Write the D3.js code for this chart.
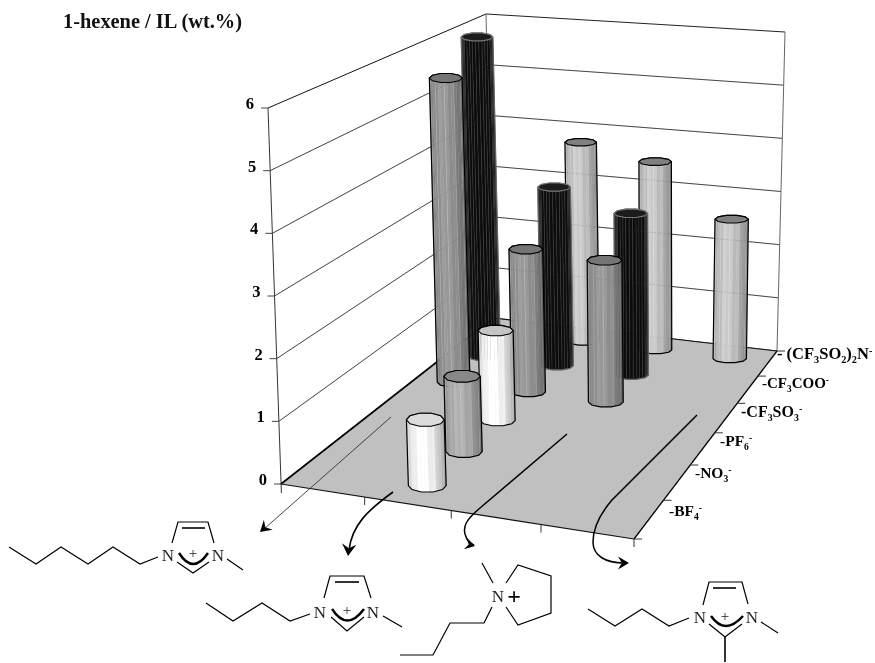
<!DOCTYPE html>
<html><head><meta charset="utf-8">
<script src="https://cdn.jsdelivr.net/npm/d3@7/dist/d3.min.js"></script>
<style>html,body{margin:0;padding:0;background:#fff}svg{display:block;filter:grayscale(1)}
text{font-family:"Liberation Serif",serif}</style></head>
<body><svg id="c" width="875" height="663"></svg>
<script>
const cations=["hexyl-mim","butyl-mim","butyl-pyrr","butyl-dmim"];
const anions=["BF4","NO3","PF6","CF3SO3","CF3COO","(CF3SO2)2N"];
const hexylMim=[null,null,null,5.5,5.98,null];
const butylMim=[1.05,1.25,1.55,2.55,3.3,3.8];
const butylPyrr=[null,null,null,2.5,2.95,3.55];
const butylDmim=[null,null,null,null,null,2.6];
const zTicks=[0,1,2,3,4,5,6];
const anionLabels=[
 [["-BF",0],["4",-1],["-",1]],
 [["-NO",0],["3",-1],["-",1]],
 [["-PF",0],["6",-1],["-",1]],
 [["-CF",0],["3",-1],["SO",0],["3",-1],["-",1]],
 [["-CF",0],["3",-1],["COO",0],["-",1]],
 [["- (CF",0],["3",-1],["SO",0],["2",-1],[")",0],["2",-1],["N",0],["-",1]]];
const anionBody=["#efefef","#a6a6a6","#f2f2f2","#8e8e8e","#0c0c0c","#bdbdbd"];
const anionCap=["#dcdcdc","#888888","#c4c4c4","#757575","#1c1c1c","#808080"];

const svg=d3.select("#c");
const FL=[281,484],FR=[634,539],BR=[777,351],BL=[493,318];
const TFL=[268,108],TFR=[634,143],TBR=[785,32],TBL=[486,14];
function homography(p0,p1,p2,p3){
 const dx1=p1[0]-p2[0],dx2=p3[0]-p2[0],sx=p0[0]-p1[0]+p2[0]-p3[0];
 const dy1=p1[1]-p2[1],dy2=p3[1]-p2[1],sy=p0[1]-p1[1]+p2[1]-p3[1];
 const den=dx1*dy2-dx2*dy1;
 const g=(sx*dy2-dx2*sy)/den,h=(dx1*sy-sx*dy1)/den;
 const a=p1[0]-p0[0]+g*p1[0],b=p3[0]-p0[0]+h*p3[0],c=p0[0];
 const d=p1[1]-p0[1]+g*p1[1],e=p3[1]-p0[1]+h*p3[1],f=p0[1];
 return (u,v)=>{const w=g*u+h*v+1;return [(a*u+b*v+c)/w,(d*u+e*v+f)/w];};
}
const H0=homography(FL,FR,BR,BL),H1=homography(TFL,TFR,TBR,TBL);
const uS=d3.scaleLinear().domain([0,cations.length]).range([0,1]);
const vS=d3.scaleLinear().domain([0,anions.length]).range([0,1]);
const zS=d3.scaleLinear().domain([0,6]).range([0,1]);
function P(i,r,z){const u=uS(i),v=vS(r),t=zS(z),a=H0(u,v),b=H1(u,v);
 return [a[0]+(b[0]-a[0])*t,a[1]+(b[1]-a[1])*t];}
const line=d3.line();
const seg=(g,a,b,w,col)=>g.append("line").attr("x1",a[0]).attr("y1",a[1]).attr("x2",b[0]).attr("y2",b[1]).attr("stroke",col||"#000").attr("stroke-width",w||1);

const gWall=svg.append("g"),gFloor=svg.append("g"),gBars=svg.append("g"),gOver=svg.append("g"),gTxt=svg.append("g"),gChem=svg.append("g");
const nU=cations.length,nV=anions.length;
gFloor.append("path").attr("d",line([P(0,0,0),P(nU,0,0),P(nU,nV,0),P(0,nV,0)])+"Z").attr("fill","#c0c0c0");
zTicks.forEach(z=>{
 seg(gWall,P(0,0,z),P(0,nV,z),1,z==6?"#111":"#444");
 seg(gWall,P(0,nV,z),P(nU,nV,z),1,z==6?"#222":"#444");
 const a=P(0,0,z);seg(gWall,[a[0]-7,a[1]],a,1,"#444");
 gTxt.append("text").attr("x",a[0]-14).attr("y",a[1]+1).attr("text-anchor","end")
  .attr("font-size",16.5).attr("font-weight","bold").text(z);
 if(z>0&&z<6){
  [[P(0,0,z),P(0,nV,z)],[P(0,nV,z),P(nU,nV,z)]].forEach(([p,q])=>seg(gOver,p,q,.8,"#666").attr("stroke-dasharray","1 2").attr("opacity",.4));
 }
});
seg(gWall,P(0,0,6),[FL[0]+.4,FL[1]+9],1,"#333");
seg(gWall,P(0,nV,6),P(0,nV,0),1,"#666");
seg(gWall,P(nU,nV,6),P(nU,nV,0),1,"#666");
seg(gFloor,P(0,0,0),P(0,nV,0),1.6,"#000");
seg(gFloor,P(0,nV,0),P(nU,nV,0),1.2,"#111");
seg(gFloor,P(0,0,0),P(nU,0,0),1.2,"#111");
seg(gFloor,P(nU,0,0),P(nU,nV,0),1.3,"#000");
d3.range(1,nU+1).forEach(i=>{const a=P(i,0,0);seg(gFloor,a,[a[0],a[1]+8],1,"#333");});
d3.range(0,nV+1).forEach(r=>{const a=P(nU,r,0);seg(gFloor,a,[a[0]+8,a[1]],1,"#333");});
const labX=[669,695,720,741,762,777],labY=[516,478,446,417,388,359],labS=[15.5,15.5,15.5,16,15,16.5];
anionLabels.forEach((parts,r)=>{
 const t=gTxt.append("text").attr("x",labX[r]).attr("y",labY[r]).attr("font-size",labS[r]).attr("font-weight","bold");
 let prev=0;
 parts.forEach(([s,k])=>{
  const off=k==-1?3.5:k==1?-5:0;
  t.append("tspan").attr("dy",off-prev).attr("font-size",k==0?labS[r]:labS[r]*.62).text(s);
  prev=off;
 });
});
gTxt.append("text").attr("x",63).attr("y",28).attr("font-size",20.4).attr("font-weight","bold").attr("fill","#111").text("1-hexene / IL (wt.%)");

const bars=[];
[hexylMim,butylMim,butylPyrr,butylDmim].forEach((vals,i)=>vals.forEach((val,r)=>{
 if(val!=null){const b=P(i+.5,r+.5,0);bars.push({i,r,val,y:b[1]});}
}));
bars.sort((a,b)=>a.y-b.y);
const shade=d3.scaleLinear().domain([0,.35,.7,1]).range([.86,1.08,.95,.66]);
const polyAngles=d3.range(0,11).map(k=>k*36*Math.PI/180);
bars.forEach(d=>{
 const b=P(d.i+.5,d.r+.5,0),t=P(d.i+.5,d.r+.5,d.val);
 const e0=P(d.i+.5-.22,d.r+.5,0),e1=P(d.i+.5+.22,d.r+.5,0);
 const rx=Math.hypot(e1[0]-e0[0],e1[1]-e0[1])/2, ry=rx*(.36-.024*d.r);
 const pt=(c,a)=>[c[0]+rx*Math.cos(a),c[1]+ry*Math.sin(a)];
 const g=gBars.append("g");
 const black=d.r==4;
 const base=d3.color(anionBody[d.r]);
 for(let k=5;k>0;k--){
  const a1=polyAngles[k],a2=polyAngles[k-1];
  for(let s=0;s<3;s++){
   const l=(q)=>{const p=pt([0,0],a1),n=pt([0,0],a2);return [p[0]+(n[0]-p[0])*q,p[1]+(n[1]-p[1])*q];};
   const q1=l(s/3),q2=l((s+1)/3);
   const f=(q1[0]+q2[0])/(4*rx)+.5;
   let m=shade(f);
   if((5-k)*3+s&1) m*=1.05;
   const col=black?d3.rgb(12,12,12):d3.rgb(Math.min(255,base.r*m),Math.min(255,base.g*m),Math.min(255,base.b*m));
   g.append("path").attr("d",line([[b[0]+q1[0],b[1]+q1[1]],[b[0]+q2[0],b[1]+q2[1]],[t[0]+q2[0],t[1]+q2[1]],[t[0]+q1[0],t[1]+q1[1]]])+"Z")
    .attr("fill",col.formatRgb()).attr("stroke",col.formatRgb()).attr("stroke-width",.4);
   if(s==1||black){ g.append("line").attr("x1",b[0]+q1[0]).attr("y1",b[1]+q1[1]).attr("x2",t[0]+q1[0]).attr("y2",t[1]+q1[1])
    .attr("stroke",black?"#777":"#fff").attr("stroke-width",.6).attr("opacity",black?.45:.3);}
  }
 }
 const outer=[pt(t,Math.PI),...polyAngles.slice(6).map(a=>pt(t,a))];
 const bot=polyAngles.slice(0,6).map(a=>pt(b,a));
 g.append("path").attr("d",line([...bot,...outer])+"Z").attr("fill","none").attr("stroke",black?"#666":"#000").attr("stroke-width",1.2);
 g.append("path").attr("d",line(polyAngles.map(a=>pt(t,a)))+"Z").attr("fill",anionCap[d.r]).attr("stroke",black?"#777":"#000").attr("stroke-width",1.1);
});

const lineG=(pts,w)=>gChem.append("path").attr("d",line(pts)).attr("fill","none").attr("stroke","#000").attr("stroke-width",w||1.2).attr("stroke-linejoin","miter");
const atom=(x,y,s,size,bold)=>gChem.append("text").attr("x",x).attr("y",y).attr("text-anchor","middle").attr("dominant-baseline","central")
 .attr("font-size",size).attr("font-weight",bold?"bold":"normal").attr("fill",bold?"#000":"#222").text(s);
function imid(chain,nl,nr,ring,dbl,bot,arc,plus,me){
 lineG(chain);lineG(ring);lineG(dbl,1.6);lineG(bot);lineG(me);
 gChem.append("path").attr("d",`M${arc[0]}Q${arc[1]} ${arc[2]}`).attr("fill","none").attr("stroke","#000").attr("stroke-width",2.4);
 atom(nl[0],nl[1],"N",17);atom(nr[0],nr[1],"N",17);atom(plus[0],plus[1],"+",15);
}
imid([[9,547],[36,564],[61,547],[88,564],[113,547],[140,564],[158,557]],[168,555],[218,555],
 [[172,543],[178,522],[208,522],[214,543]],[[182,528],[205,528]],[[177,562],[193,573],[209,562]],
 [[179,553],[193,575],[208,553]],[193,553],[[227,559],[243,570]]);
imid([[206,603],[233,621],[262,603],[290,621],[310,614]],[320,612],[373,612],
 [[324,598],[330,576],[364,576],[371,598]],[[335,582],[359,582]],[[331,617],[347,631],[364,617]],
 [[332,609],[347,632],[364,609]],[347,610],[[383,616],[402,627]]);
imid([[588,609],[615,626],[642,609],[669,626],[689,618]],[700,617],[752,617],
 [[703,605],[709,582],[742,582],[748,604]],[[713,588],[736,588]],[[709,624],[725,637],[742,624]],
 [[711,616],[725,636],[743,616]],[725,616],[[761,622],[778,633]]);
lineG([[725,637],[725,662]],1.6);
atom(498,596,"N",17);atom(514,596,"+",24,true);
lineG([[482,563],[493,583]]);
lineG([[506,583],[518,565],[551,576],[551,613],[518,625],[506,607]]);
lineG([[492,607],[484,623],[450,623],[433,655],[400,655]]);
function head(tip,ang,size){
 const c=Math.cos(ang),s=Math.sin(ang);
 const q=(x,y)=>[tip[0]+x*c-y*s,tip[1]+x*s+y*c];
 gChem.append("path").attr("d",line([tip,q(-size,-size*.6),q(-size*.65,0),q(-size,size*.6)])+"Z").attr("fill","#000");
}
gChem.append("line").attr("x1",391).attr("y1",417).attr("x2",264).attr("y2",529).attr("stroke","#333").attr("stroke-width",.9);
head([260,532],Math.atan2(113,-128),11);
gChem.append("path").attr("d","M393,492C368,510 352,525 349,550").attr("fill","none").attr("stroke","#000").attr("stroke-width",1.6);
head([348,556],Math.atan2(20,-2),12);
gChem.append("path").attr("d","M567,434L480,508C466,520 463,526 465,534C467,541 470,544 474,545").attr("fill","none").attr("stroke","#000").attr("stroke-width",1.5);
head([475,546],.25,10);
gChem.append("path").attr("d","M697,415L612,500C600,514 593,528 593,542C593,556 606,563 624,563").attr("fill","none").attr("stroke","#000").attr("stroke-width",1.5);
head([629,563],0,11);
</script></body></html>
